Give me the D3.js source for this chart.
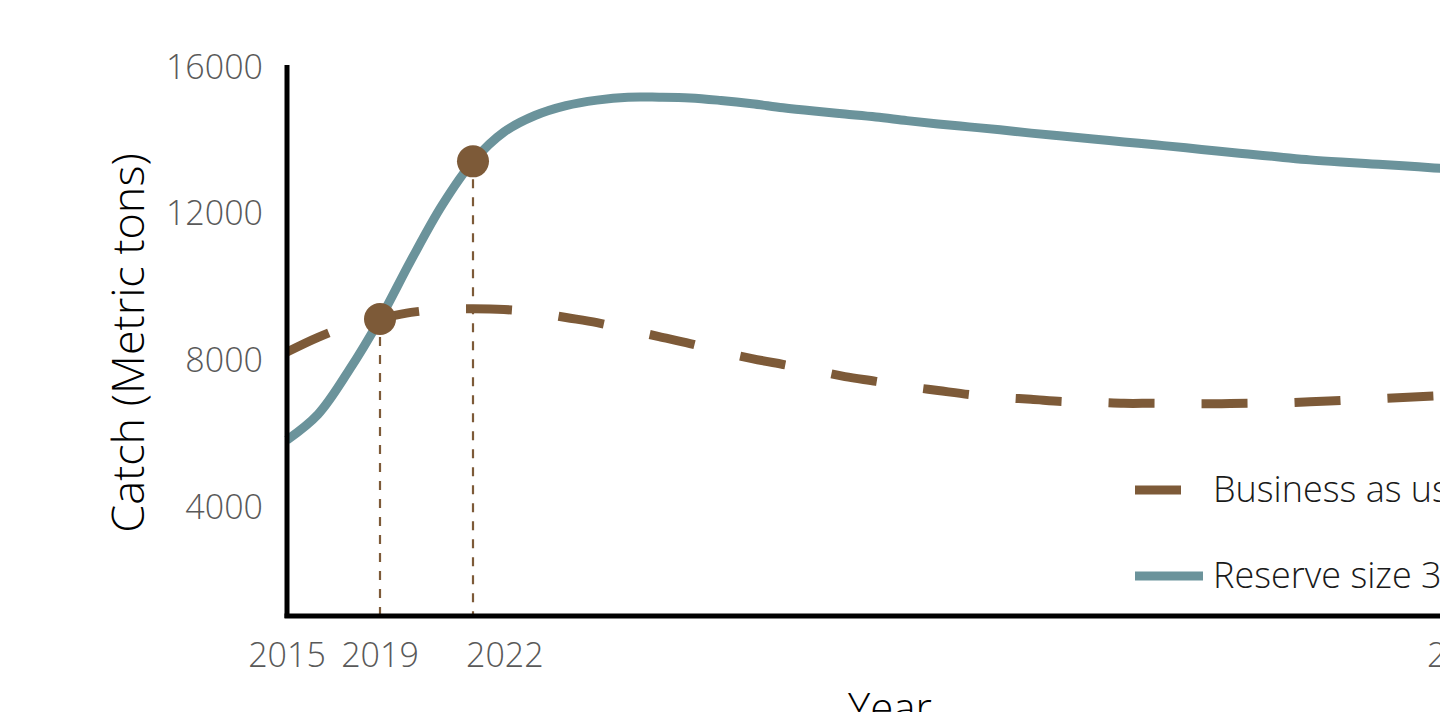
<!DOCTYPE html>
<html>
<head>
<meta charset="utf-8">
<script src="https://cdn.jsdelivr.net/npm/d3@7"></script>
<style>
  html, body { margin: 0; padding: 0; background: #fff; overflow: hidden; }
  svg { display: block; }
  text { font-family: "Open Sans", "Noto Sans", sans-serif; }
</style>
</head>
<body>
<svg id="chart" width="1440" height="712"></svg>
<script>
// ---- data ----
const years = d3.range(2016, 2055);
const businessAsUsual = [
  8200, 8600, 8920, 9110, 9280, 9360, 9380, 9360, 9280, 9140,
  9000, 8810, 8620, 8430, 8210, 8020, 7860, 7700, 7530, 7400,
  7260, 7150, 7040, 6960, 6910, 6850, 6830, 6800, 6800, 6790,
  6790, 6800, 6810, 6840, 6880, 6920, 6960, 7000, 7040
];
const reserve30 = [
  5800, 6500, 7700, 9100, 10700, 12200, 13400, 14200, 14650, 14920,
  15070, 15150, 15150, 15130, 15060, 14970, 14860, 14770, 14690, 14610,
  14510, 14420, 14340, 14260, 14170, 14090, 14010, 13930, 13850, 13770,
  13680, 13600, 13520, 13440, 13380, 13330, 13280, 13220, 13170
];
const markerYears = [2019, 2022];
const yTicks = [4000, 8000, 12000, 16000];
const xTickLabels = ["2015", "2019", "2022", "2050"];
const xTickYears = [2016, 2019, 2022, 2053];
const seriesNames = ["Business as usual", "Reserve size 30%"];

// ---- layout ----
const svg = d3.select("#chart");
const brown = "#7d5a38";
const teal = "#6b939b";
const tickGray = "#595959";

const x = d3.scaleLinear().domain([2016, 2053]).range([287, 1434]);
const y = d3.scaleLinear().domain([1000, 16000]).range([616, 66]);

const bau = years.map((yr, i) => ({ yr, v: businessAsUsual[i] }));
const res = years.map((yr, i) => ({ yr, v: reserve30[i] }));

const line = d3.line().x(d => x(d.yr)).y(d => y(d.v)).curve(d3.curveCatmullRom.alpha(0.5));

// vertical dashed guides from markers
const markers = markerYears.map(yr => ({ yr, v: reserve30[years.indexOf(yr)] }));
svg.selectAll("line.guide").data(markers).join("line")
  .attr("class", "guide")
  .attr("x1", d => x(d.yr)).attr("x2", d => x(d.yr))
  .attr("y1", d => y(d.v)).attr("y2", y(1000))
  .attr("stroke", brown).attr("stroke-width", 2.2)
  .attr("stroke-dasharray", "9,9");

// series
svg.append("path").datum(bau)
  .attr("d", line).attr("fill", "none")
  .attr("stroke", brown).attr("stroke-width", 9)
  .attr("stroke-dasharray", "46,47");

svg.append("path").datum(res)
  .attr("d", line).attr("fill", "none")
  .attr("stroke", teal).attr("stroke-width", 9)
  .attr("stroke-linejoin", "round");

// markers
svg.selectAll("circle.marker").data(markers).join("circle")
  .attr("class", "marker")
  .attr("cx", d => x(d.yr)).attr("cy", d => y(d.v))
  .attr("r", 16).attr("fill", brown);

// axes (custom-styled via d3 axis)
const yAxis = svg.append("g").attr("transform", `translate(${x(2016)},0)`)
  .call(d3.axisLeft(y).tickValues(yTicks).tickSize(0).tickPadding(24).tickFormat(d3.format("d")));
yAxis.select(".domain").attr("stroke", "#000").attr("stroke-width", 5)
  .attr("d", `M0,${y(16000) - 1}V${y(1000) + 2}`);
yAxis.selectAll("text").attr("fill", tickGray)
  .style("font-size", "34px").style("font-weight", 300)
  .attr("font-family", null).attr("dy", "0.36em");

const xAxis = svg.append("g").attr("transform", `translate(0,${y(1000)})`);
xAxis.append("line")
  .attr("x1", x(2016) - 2.5).attr("x2", 1440)
  .attr("stroke", "#000").attr("stroke-width", 5);
xAxis.selectAll("text").data(xTickYears).join("text")
  .attr("x", (d, i) => (i === 0 || i === 1) ? x(d) : x(d) - 7)
  .attr("y", 51)
  .attr("text-anchor", (d, i) => (i === 0 || i === 1) ? "middle" : "start")
  .attr("fill", tickGray)
  .style("font-size", "34px").style("font-weight", 300)
  .text((d, i) => xTickLabels[i]);

// axis titles
svg.append("text")
  .attr("transform", `translate(144,${(y(1000) + y(16000)) / 2 + 2}) rotate(-90)`)
  .attr("text-anchor", "middle")
  .attr("fill", "#000")
  .style("font-size", "45px").style("font-weight", 300)
  .text("Catch (Metric tons)");

svg.append("text")
  .attr("x", 890).attr("y", 723)
  .attr("text-anchor", "middle")
  .attr("fill", "#000")
  .style("font-size", "42px").style("font-weight", 300)
  .text("Year");

// legend
const legend = svg.append("g");
const legendRows = [
  { name: seriesNames[0], color: brown, dash: "46,47", y: 490 },
  { name: seriesNames[1], color: teal, dash: null, y: 576 }
];
legendRows.forEach(r => {
  legend.append("line")
    .attr("x1", 1135).attr("x2", 1203)
    .attr("y1", r.y).attr("y2", r.y)
    .attr("stroke", r.color).attr("stroke-width", 9)
    .attr("stroke-dasharray", r.dash);
  legend.append("text")
    .attr("x", 1213).attr("y", r.y + 12)
    .attr("fill", "#1a1a1a")
    .style("font-size", "36px").style("font-weight", 300)
    .text(r.name);
});
</script>
</body>
</html>
